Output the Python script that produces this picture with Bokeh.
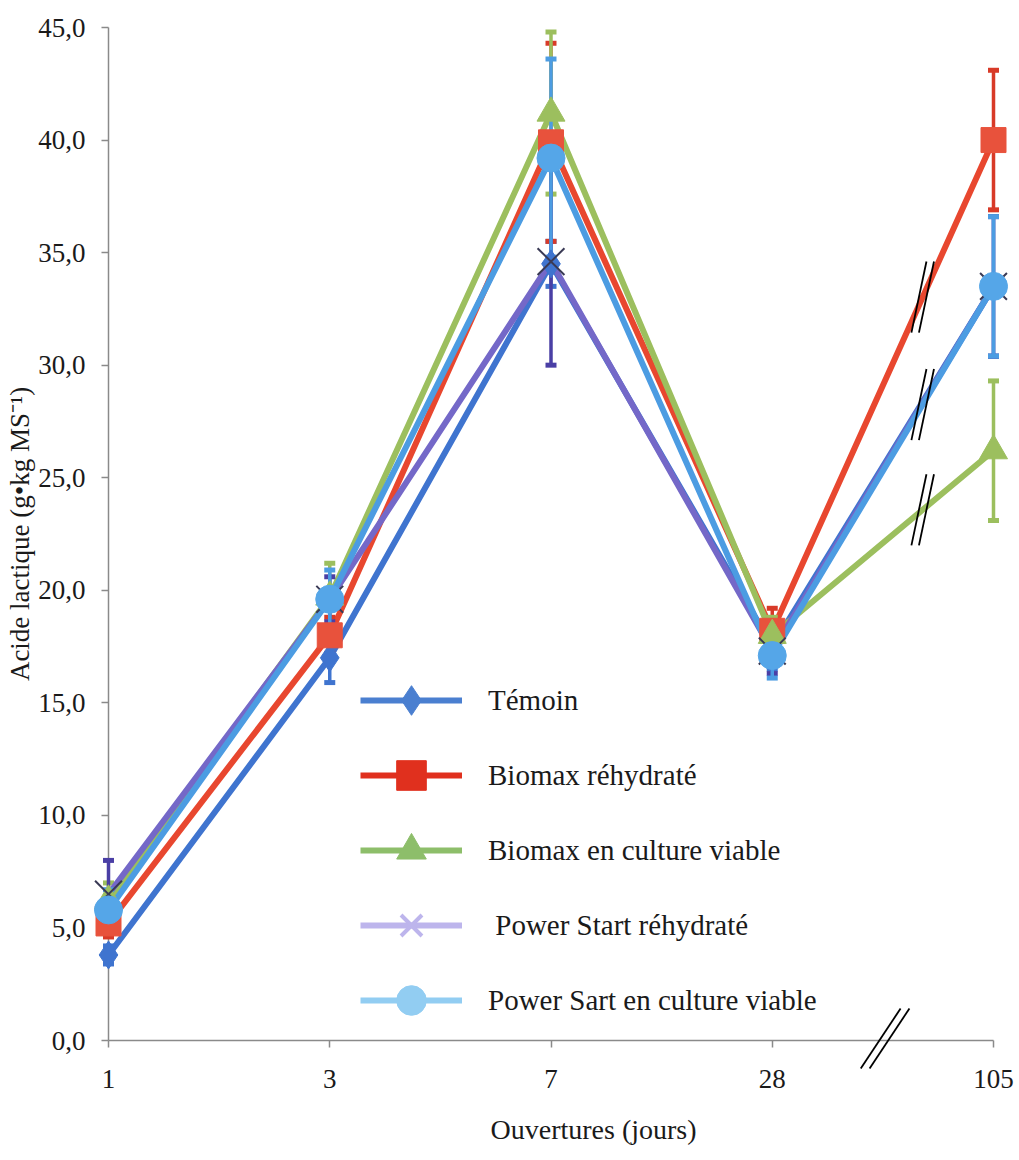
import numpy as np
from bokeh.plotting import figure
from bokeh.models import (Range1d, FixedTicker, CustomJSTickFormatter, ColumnDataSource,
                          Legend, LegendItem, Title)
from bokeh.core.properties import value
from bokeh.embed import file_html
from bokeh.resources import INLINE

# ---------------- data ----------------
days = ["1", "3", "7", "28", "105"]
y_ticks = [0, 5, 10, 15, 20, 25, 30, 35, 40, 45]

temoin = [3.8, 17.0, 34.5, 17.5, 33.5]
temoin_err = [0.4, 1.1, 1.0, 1.0, 3.1]
biomax_rehy = [5.2, 18.0, 39.9, 18.2, 40.0]
biomax_rehy_err = [0.6, 0.8, 4.4, 1.0, 3.1]
biomax_cv = [6.2, 19.7, 41.2, 18.0, 26.2]
biomax_cv_err = [0.8, 1.5, 3.6, 0.8, 3.1]
ps_rehy = [6.5, 19.6, 34.6, 17.3, 33.5]
ps_rehy_err = [1.5, 1.0, 4.6, 1.0, 3.1]
ps_cv = [5.8, 19.6, 39.2, 17.1, 33.5]
ps_cv_err = [0.9, 1.3, 4.4, 1.0, 3.1]

labels = ["Témoin", "Biomax réhydraté", "Biomax en culture viable",
          " Power Start réhydraté", "Power Sart en culture viable"]

FONT = "Liberation Serif"

xs = list(range(len(days)))

p = figure(frame_width=885, frame_height=1013, output_backend="svg", toolbar_location=None,
           x_range=Range1d(0, len(days) - 1), y_range=Range1d(0, 45),
           min_border_left=108, min_border_right=26, min_border_top=27, min_border_bottom=120)
p.outline_line_color = None
p.grid.visible = False
p.background_fill_color = "white"

# axes
p.xaxis.ticker = FixedTicker(ticks=xs)
p.xaxis.major_label_overrides = {i: d for i, d in enumerate(days)}
p.yaxis.ticker = FixedTicker(ticks=y_ticks)
p.yaxis.formatter = CustomJSTickFormatter(code="return tick.toFixed(1).replace('.', ',');")
for ax in (p.xaxis, p.yaxis):
    ax.axis_line_color = "#8a8a8a"
    ax.axis_line_width = 1.5
    ax.major_tick_line_color = "#8a8a8a"
    ax.major_tick_line_width = 1.5
    ax.major_tick_out = 7
    ax.major_tick_in = 0
    ax.minor_tick_line_color = None
    ax.major_label_text_font = FONT
    ax.major_label_text_font_size = "27px"
    ax.major_label_text_color = "#1a1a1a"
p.xaxis.major_label_standoff = 22
p.yaxis.major_label_standoff = 16
p.yaxis.axis_label = "Acide lactique (g•kg MS⁻¹)"
p.yaxis.axis_label_text_font = FONT
p.yaxis.axis_label_text_font_size = "27px"
p.yaxis.axis_label_text_font_style = "normal"
p.yaxis.axis_label_text_color = "#1a1a1a"
p.yaxis.axis_label_standoff = 0

series = [
    (temoin, temoin_err, "#3F74CF", "diamond", 28, "#3F74CF", "#3F74CF"),
    (biomax_rehy, biomax_rehy_err, "#E8472F", "square", 25, "#E8523C", "#D83A28"),
    (biomax_cv, biomax_cv_err, "#9CBF5E", "triangle", 28, "#9CBF5E", "#9CBF5E"),
    (ps_rehy, ps_rehy_err, "#7468C8", "x", 38, None, "#4A3FA5"),
    (ps_cv, ps_cv_err, "#4C9CE2", "circle", 28, "#55A6E8", "#4C9CE2"),
]

# lines and error bars
for vals, errs, lc, mk, sz, fc, ec in series:
    lo = [v - e for v, e in zip(vals, errs)]
    up = [v + e for v, e in zip(vals, errs)]
    p.line(xs, vals, line_color=lc, line_width=6, level="overlay")
    p.segment(x0=xs, y0=lo, x1=xs, y1=up, line_color=ec, line_width=3.5, level="overlay")
    p.scatter(xs + xs, lo + up, marker="dash", size=11, line_color=ec, line_width=5,
              level="overlay")

# markers
for vals, errs, lc, mk, sz, fc, ec in series:
    if mk == "x":
        p.scatter(xs, vals, marker="x", size=sz, line_color="#3a3a55", line_width=2, level="overlay")
    else:
        p.scatter(xs, vals, marker=mk, size=sz, fill_color=fc, line_color=fc, line_width=1,
                  level="overlay")

# break marks on the lines between 28 and 105
bx = 3.68
for vals in (biomax_rehy, ps_cv, biomax_cv):
    yb = vals[3] + (vals[4] - vals[3]) * (bx - 3)
    x0 = [bx - 0.034 + o for o in (-0.017, 0.017)]
    x1 = [bx + 0.034 + o for o in (-0.017, 0.017)]
    p.segment(x0=x0, y0=[yb - 1.58] * 2, x1=x1, y1=[yb + 1.58] * 2,
              line_color="black", line_width=1.8, level="overlay")

# break mark on the x axis
ax_b = 3.51
p.segment(x0=[ax_b - 0.11, ax_b - 0.07], y0=[-1.24, -1.24], x1=[ax_b + 0.07, ax_b + 0.11], y1=[1.42, 1.42],
          line_color="black", line_width=1.8, level="overlay")

# legend-only renderers
leg_cols = [("#4A7FD0", "diamond", "#4A7FD0"),
            ("#E0301E", "square", "#E0301E"),
            ("#8DBE6A", "triangle", "#8DBE6A"),
            ("#BDB5EC", "x", None),
            ("#92CDF2", "circle", "#92CDF2")]
items = []
for lab, (lc, mk, fc) in zip(labels, leg_cols):
    lr = p.line([np.nan], [np.nan], line_color=lc, line_width=6)
    if mk == "x":
        mr = p.scatter([np.nan], [np.nan], marker="x", size=30, line_color=lc, line_width=4)
    else:
        mr = p.scatter([np.nan], [np.nan], marker=mk, size=30, fill_color=fc, line_color=fc)
    items.append(LegendItem(label=lab, renderers=[lr, mr]))

legend = Legend(items=items, location=(252, 3), padding=0, margin=0,
                glyph_width=102, glyph_height=74, label_height=30, spacing=1,
                label_standoff=26, border_line_alpha=0, background_fill_alpha=0,
                label_text_font=FONT, label_text_font_size="29px", label_text_color="#1a1a1a")
p.add_layout(legend)

# x axis title
p.add_layout(Title(text="\nOuvertures (jours)", align="left", offset=382, standoff=0,
                   text_line_height=0.7,
                   text_font=FONT, text_font_size="28px", text_font_style="normal",
                   text_color="#1a1a1a"), "below")

open("out.html", "w").write(file_html(p, INLINE))
